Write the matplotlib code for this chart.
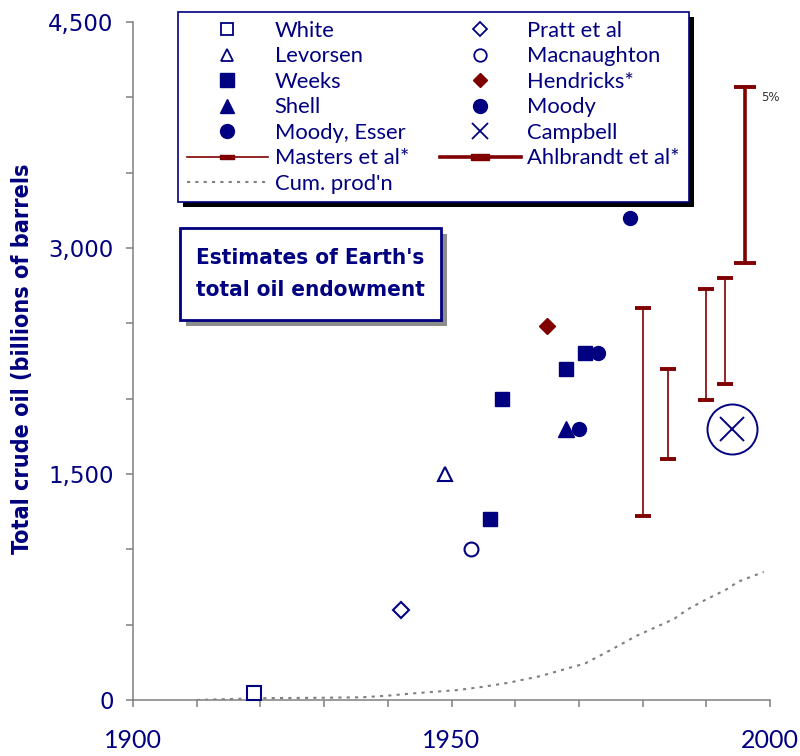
import matplotlib
matplotlib.use("Agg")
import matplotlib.pyplot as plt
from matplotlib.lines import Line2D
from matplotlib.patches import Rectangle
from matplotlib import font_manager
import numpy as np

NAVY = "#000080"
DRED = "#800000"
GRAY = "#808080"

# ---------------- data ----------------
white_year, white_val = [1919], [45]
pratt_year, pratt_val = [1942], [600]
levorsen_year, levorsen_val = [1949], [1500]
macnaughton_year, macnaughton_val = [1953], [1000]
weeks_year, weeks_val = [1956, 1958, 1968, 1971], [1200, 2000, 2200, 2300]
hendricks_year, hendricks_val = [1965], [2480]
shell_year, shell_val = [1968], [1800]
moody_year, moody_val = [1973, 1978], [2300, 3200]
esser_year, esser_val = [1970], [1800]
campbell_year, campbell_val = [1994], [1800]

masters_year = [1980, 1984, 1990, 1993]
masters_low = [1220, 1600, 1990, 2100]
masters_high = [2600, 2200, 2730, 2800]

ahl_year = [1996]
ahl_low = [2900]
ahl_high = [4070]

cum_year = [1910, 1920, 1930, 1936, 1940, 1944, 1951, 1955, 1959, 1964, 1967, 1971,
            1975, 1979, 1982, 1985, 1987, 1990, 1993, 1995, 1999]
cum_val = [0, 12, 15, 18, 29, 44, 66, 88, 115, 159, 195, 243,
           332, 425, 482, 540, 600, 668, 730, 785, 850]

y_ticks = [0, 1500, 3000, 4500]
y_tick_labels = ["0", "1,500", "3,000", "4,500"]
x_ticks = [1900, 1950, 2000]
x_tick_labels = ["1900", "1950", "2000"]

# narrow bold font choice
names = {f.name for f in font_manager.fontManager.ttflist}
cond = any(f.name == "DejaVu Sans" and str(f.stretch) in ("condensed", "semi-condensed")
           for f in font_manager.fontManager.ttflist)
if "Liberation Sans Narrow" in names:
    NARROW = dict(family="Liberation Sans Narrow")
    tscale = 1.0
elif cond:
    NARROW = dict(family="DejaVu Sans", stretch="condensed")
    tscale = 0.92
else:
    NARROW = dict(family="Roboto")
    tscale = 0.95

# ---------------- figure ----------------
W, H = 800, 756
fig = plt.figure(figsize=(W / 100, H / 100), dpi=100)
ax = fig.add_axes([133 / W, 1 - 700 / H, (770 - 133) / W, (700 - 22) / H])

ax.set_xlim(1900, 2000)
ax.set_ylim(0, 4500)

# cumulative production
ax.plot(cum_year, cum_val, color=GRAY, lw=1.5, ls=(0, (1.5, 2.5)), zorder=2)

mk = dict(ls="none", clip_on=False, zorder=4)
ax.plot(white_year, white_val, marker="s", ms=10, mfc="white", mec=NAVY, mew=1.5, **mk)
ax.plot(pratt_year, pratt_val, marker="D", ms=8, mfc="white", mec=NAVY, mew=1.5, **mk)
ax.plot(levorsen_year, levorsen_val, marker="^", ms=10, mfc="white", mec=NAVY, mew=1.5, **mk)
ax.plot(macnaughton_year, macnaughton_val, marker="o", ms=10, mfc="white", mec=NAVY, mew=1.5, **mk)
ax.plot(weeks_year, weeks_val, marker="s", ms=10, mfc=NAVY, mec=NAVY, **mk)
ax.plot(hendricks_year, hendricks_val, marker="D", ms=8, mfc=DRED, mec=DRED, **mk)
ax.plot(shell_year, shell_val, marker="^", ms=11, mfc=NAVY, mec=NAVY, **mk)
ax.plot(moody_year, moody_val, marker="o", ms=10, mfc=NAVY, mec=NAVY, **mk)
ax.plot(esser_year, esser_val, marker="o", ms=10, mfc=NAVY, mec=NAVY, **mk)
ax.plot(campbell_year, campbell_val, marker="x", ms=17, mec=NAVY, mew=1.4, **mk)
ax.plot(campbell_year, campbell_val, marker="o", ms=36, mfc="none", mec=NAVY, mew=1.4, **mk)

# ranges
m_mid = [(a + b) / 2 for a, b in zip(masters_low, masters_high)]
ax.errorbar(masters_year, m_mid,
            yerr=[[m - a for m, a in zip(m_mid, masters_low)],
                  [b - m for m, b in zip(m_mid, masters_high)]],
            fmt="none", ecolor=DRED, elinewidth=1.2, capsize=5.8, capthick=2.8, zorder=3)
a_mid = [(a + b) / 2 for a, b in zip(ahl_low, ahl_high)]
ax.errorbar(ahl_year, a_mid,
            yerr=[[m - a for m, a in zip(a_mid, ahl_low)],
                  [b - m for m, b in zip(a_mid, ahl_high)]],
            fmt="none", ecolor=DRED, elinewidth=2.6, capsize=8, capthick=2.8, zorder=3)
ax.annotate("5%", xy=(ahl_year[0], ahl_high[0]), xytext=(12, -8), textcoords="offset points",
            fontsize=8.5, color="#333333", family="DejaVu Sans", va="center", ha="left")

# axes styling
for s in ("top", "right"):
    ax.spines[s].set_visible(False)
for s in ("left", "bottom"):
    ax.spines[s].set_color(GRAY)
    ax.spines[s].set_linewidth(1.1)

ax.set_xticks(x_ticks)
ax.set_xticklabels(x_tick_labels)
ax.set_xticks(np.arange(1900, 2001, 10), minor=True)
ax.set_yticks(y_ticks)
ax.set_yticklabels(y_tick_labels)
ax.set_yticks(np.arange(0, 4501, 500), minor=True)
ax.tick_params(which="both", direction="out", length=5, width=1.1, color=GRAY)
ax.tick_params(axis="x", which="major", pad=16, labelsize=18, labelcolor=NAVY)
ax.tick_params(axis="y", which="major", pad=9, labelsize=16.5, labelcolor=NAVY)
for t in ax.get_xticklabels():
    t.set_family(["Lato", "DejaVu Sans"])
for t in ax.get_yticklabels():
    t.set_family(["DejaVu Sans"])

ax.set_ylabel("Total crude oil (billions of barrels", fontsize=18.2 * tscale, fontweight="bold",
              color=NAVY, **NARROW)
ax.yaxis.set_label_coords(-0.155, 0.504)

# legend
h = []
def L(label, **kw):
    h.append(Line2D([], [], label=label, **kw))
L("White", ls="none", marker="s", ms=9, mfc="white", mec=NAVY, mew=1.3)
L("Levorsen", ls="none", marker="^", ms=9, mfc="white", mec=NAVY, mew=1.3)
L("Weeks", ls="none", marker="s", ms=10, mfc=NAVY, mec=NAVY)
L("Shell", ls="none", marker="^", ms=10, mfc=NAVY, mec=NAVY)
L("Moody, Esser", ls="none", marker="o", ms=10, mfc=NAVY, mec=NAVY)
rect = [(-3, -1), (3, -1), (3, 1), (-3, 1), (-3, -1)]
L("Masters et al*", color=DRED, lw=1.2, marker=rect, ms=10, mfc=DRED, mec=DRED)
L("Cum. prod'n", color=GRAY, lw=1.5, ls=(0, (1.5, 2.5)))
L("Pratt et al", ls="none", marker="D", ms=7, mfc="white", mec=NAVY, mew=1.3)
L("Macnaughton", ls="none", marker="o", ms=9, mfc="white", mec=NAVY, mew=1.3)
L("Hendricks*", ls="none", marker="D", ms=7, mfc=DRED, mec=DRED)
L("Moody", ls="none", marker="o", ms=10, mfc=NAVY, mec=NAVY)
L("Campbell", ls="none", marker="x", ms=11, mec=NAVY, mew=1.3)
L("Ahlbrandt et al*", color=DRED, lw=2.6, marker=rect, ms=13, mfc=DRED, mec=DRED)

leg = fig.legend(handles=h, ncol=2, loc="upper left",
                 bbox_to_anchor=(178 / W, 1 - 12 / H), borderaxespad=0,
                 prop={"family": ["Lato", "DejaVu Sans"], "size": 15.8},
                 labelcolor=NAVY, frameon=True, fancybox=False, framealpha=1,
                 edgecolor=NAVY, handlelength=3.7, handletextpad=0.3,
                 columnspacing=1.4, labelspacing=0.25, borderpad=0.4)
leg.get_frame().set_linewidth(1.2)
leg.set_zorder(6)

fig.canvas.draw()
bb = leg.get_frame().get_window_extent(fig.canvas.get_renderer())
fig.patches.append(Rectangle((bb.x0 + 5, bb.y0 - 5), bb.width, bb.height,
                             transform=None, facecolor="black", edgecolor="none",
                             zorder=5, figure=fig))

# title box
bx0, by0, bx1, by1 = 180, 228, 441, 320
fig.patches.append(Rectangle(((bx0 + 6) / W, 1 - (by1 + 6) / H), (bx1 - bx0) / W, (by1 - by0) / H,
                             transform=fig.transFigure, facecolor="#8c8c8c", edgecolor="none",
                             zorder=5, figure=fig))
fig.patches.append(Rectangle((bx0 / W, 1 - by1 / H), (bx1 - bx0) / W, (by1 - by0) / H,
                             transform=fig.transFigure, facecolor="white", edgecolor=NAVY,
                             lw=2, zorder=6, figure=fig))
fig.text((bx0 + bx1) / 2 / W, 1 - (by0 + by1) / 2 / H,
         "Estimates of Earth's\ntotal oil endowment", ha="center", va="center",
         fontsize=17.5 * tscale, fontweight="bold", color=NAVY, linespacing=1.8,
         zorder=7, **NARROW)

fig.savefig("out.png", dpi=100)
